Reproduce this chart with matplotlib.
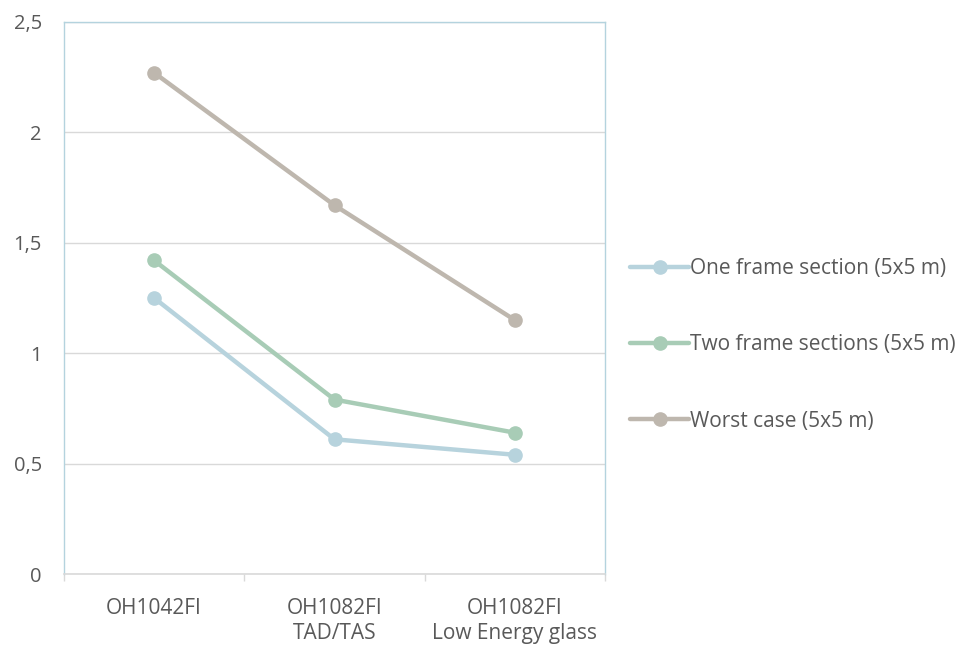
import matplotlib
matplotlib.use("Agg")
import matplotlib.pyplot as plt
from matplotlib.ticker import FuncFormatter

plt.rcParams['font.family'] = ['Open Sans', 'DejaVu Sans']

categories = ["OH1042FI", "OH1082FI\nTAD/TAS", "OH1082FI\nLow Energy glass"]
series_names = ["One frame section (5x5 m)", "Two frame sections (5x5 m)", "Worst case (5x5 m)"]
one_frame = [1.25, 0.61, 0.54]
two_frames = [1.42, 0.79, 0.64]
worst_case = [2.27, 1.67, 1.15]
y_ticks = [0, 0.5, 1, 1.5, 2, 2.5]

colors = ["#B7D3DD", "#A8CCB6", "#BEB7AE"]
text_color = "#595959"
grid_color = "#D9D9D9"
frame_color = "#B4D3DE"

fig = plt.figure(figsize=(9.6, 6.5), dpi=100)
ax = fig.add_axes([64 / 960, 76 / 650, 541 / 960, 552 / 650])

x = [i + 0.5 for i in range(len(categories))]
handles = []
for vals, c, name in zip([one_frame, two_frames, worst_case], colors, series_names):
    ln, = ax.plot(x, vals, color=c, lw=3.2, marker='o', markersize=9.5,
                  markerfacecolor=c, markeredgecolor=c, solid_capstyle='round',
                  label=name, zorder=3)
    handles.append(ln)

ax.set_xlim(0, len(categories))
ax.set_ylim(0, 2.5)
ax.set_yticks(y_ticks)
ax.yaxis.set_major_formatter(FuncFormatter(lambda v, p: f"{v:g}".replace('.', ',')))
ax.tick_params(axis='y', length=0, pad=16, labelsize=14.5, labelcolor=text_color)

ax.set_xticks(x)
ax.set_xticklabels(categories)
ax.set_xticks(range(len(categories) + 1), minor=True)
ax.tick_params(axis='x', which='major', length=0, pad=17.5, labelsize=15, labelcolor=text_color)
ax.tick_params(axis='x', which='minor', length=5, width=1, color=grid_color, direction='out')
for lbl in ax.get_xticklabels():
    lbl.set_linespacing(1.25)

ax.grid(axis='y', color=grid_color, lw=1, zorder=0)
ax.set_axisbelow(True)
for side in ['left', 'top', 'right']:
    ax.spines[side].set_color(frame_color)
    ax.spines[side].set_linewidth(1)
ax.spines['bottom'].set_color(grid_color)
ax.spines['bottom'].set_linewidth(1.2)

fig.legend(handles=handles, loc='center left', bbox_to_anchor=(622 / 960, 1 - 345 / 650),
           frameon=False, fontsize=15, labelcolor=text_color, handlelength=2.8,
           handletextpad=0.05, labelspacing=2.65, borderaxespad=0)

fig.savefig("out.png", dpi=100, facecolor='white')
